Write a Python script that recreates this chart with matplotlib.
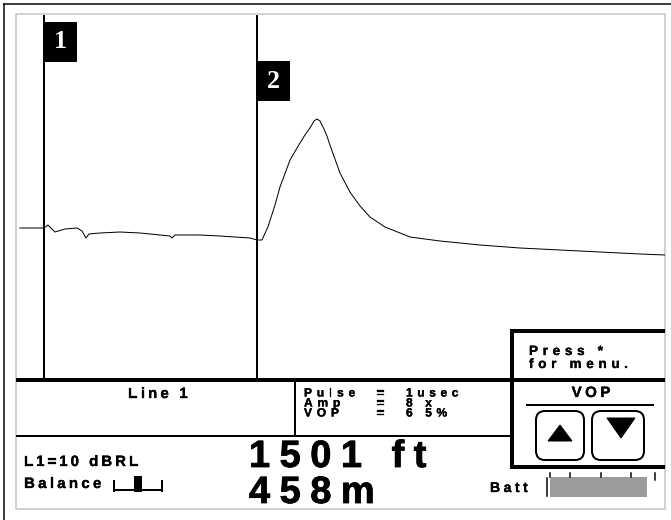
import matplotlib
matplotlib.use("Agg")
import matplotlib.pyplot as plt
from matplotlib import patheffects
from matplotlib.patches import Rectangle, FancyBboxPatch, Polygon
from matplotlib.font_manager import FontProperties, findfont
from matplotlib.ft2font import FT2Font

# TDR trace: distance (ft) vs reflection level
dist_ft = [-169, 0, 28, 56, 78, 148, 233, 268, 296, 317,
           395, 536, 677, 817, 888, 902, 923, 1099, 1240, 1346,
           1452, 1501, 1536, 1578, 1628, 1663, 1734, 1804, 1839, 1874,
           1903, 1924, 1945, 1973, 1994, 2015, 2086, 2156, 2227, 2297,
           2403, 2509, 2579, 2791, 3072, 3354, 3636, 3918, 4200, 4376]
level = [0, 0, 3, -1, -4, -1, 0, -3, -10, -6,
         -5, -4, -5, -7, -8, -10, -7, -7, -8, -9,
         -10, -12, -12, 1, 23, 41, 68, 85, 93, 100,
         107, 109, 107, 99, 92, 83, 55, 36, 22, 11,
         1, -5, -9, -13, -17, -20, -22, -24, -26, -27]
cursor_ft = [0, 1501]
cursor_names = ["1", "2"]

line_name = "Line 1"
settings = [("Pulse", "1usec"), ("Amp", "8 x"), ("VOP", "6 5%")]
dist_text = "1501 ft"
dist_m_text = "458m"
rl_text = "L1=10 dBRL"
batt_ticks = [550, 570, 601, 631, 655]

W, H = 671, 520
fig = plt.figure(figsize=(W / 72, H / 72), dpi=72)
ax = fig.add_axes([0, 0, 1, 1])
ax.set_xlim(0, W)
ax.set_ylim(H, 0)
ax.axis("off")

SANS = "Liberation Sans"


def advance(c, size, family=SANS, weight="bold"):
    fp = FontProperties(family=family, weight=weight)
    f = FT2Font(findfont(fp))
    f.set_size(size, 72)
    g = f.load_char(ord(c))
    return g.linearHoriAdvance / 65536


def tracked(x, y, s, size, track, ha="left", heavy=0.3):
    advs = [advance(c, size) for c in s]
    total = sum(advs) + track * (len(s) - 1)
    if ha == "center":
        x = x - total / 2
    pe = [patheffects.withStroke(linewidth=heavy, foreground="black")]
    for c, a in zip(s, advs):
        if c != " ":
            ax.text(x, y, c, fontsize=size, family=SANS, weight="bold",
                    color="black", va="baseline", ha="left", path_effects=pe)
        x += a + track


# frames
ax.plot([4, W], [4, 4], color="black", lw=1.5)
ax.plot([4, 4], [4, H], color="black", lw=1.5)
ax.add_patch(Rectangle((16, 14), 649, 495, fill=False, ec="#c4c4c4", lw=1.5))

# waveform area
tr = fig.add_axes([16 / W, (H - 378) / H, 649 / W, 363 / H])
tr.patch.set_alpha(0)
tr.axis("off")
tr.set_xlim(-197, 4376)
tr.set_ylim(-150, 213)
tr.plot(dist_ft, level, color="black", lw=1.0)
for ft in cursor_ft:
    tr.axvline(ft, color="black", lw=2)

# cursor label boxes
inv = ax.transData.inverted()
label_y = [22, 61]
for ft, name, y0 in zip(cursor_ft, cursor_names, label_y):
    px = inv.transform(tr.transData.transform((ft, 0)))[0]
    ax.add_patch(Rectangle((px, y0), 32, 39, color="black", zorder=5))
    ax.text(px + 16, y0 + 20, name, color="white", fontsize=26,
            family="Liberation Serif", weight="bold", ha="center",
            va="center", zorder=6)

# bottom panel lines
ax.plot([16, 665], [380, 380], color="black", lw=4, solid_capstyle="butt")
ax.plot([16, 512], [436, 436], color="black", lw=2, solid_capstyle="butt")
ax.plot([295, 295], [380, 436], color="black", lw=2)
ax.plot([512, 665], [331, 331], color="black", lw=4, solid_capstyle="butt")
ax.plot([512, 665], [467, 467], color="black", lw=4, solid_capstyle="butt")
ax.plot([512, 512], [329, 469], color="black", lw=4, solid_capstyle="butt")

# texts
tracked(158, 398, line_name, 15, 3.2, ha="center")
for yb, (k, v) in zip([396.5, 406.5, 416.5], settings):
    tracked(304, yb, k, 12, 4.8)
    tracked(377, yb, "=", 12, 4)
    tracked(406, yb, v, 12, 4.6)

tracked(529, 355, "Press *", 13.5, 4.7)
tracked(529, 368, "for menu.", 13.5, 4.7)
tracked(591, 397, "VOP", 15, 3.5, ha="center")
ax.plot([527, 653], [405, 405], color="black", lw=2)

# VOP buttons
for bx, bw in [(536, 48), (592, 52)]:
    ax.add_patch(FancyBboxPatch((bx, 411), bw, 49,
                                boxstyle="round,pad=0,rounding_size=9",
                                fill=False, ec="black", lw=2))
ax.add_patch(Polygon([[548, 441], [572, 441], [560, 425]], color="black"))
ax.add_patch(Polygon([[607, 418], [635, 418], [621, 438]], color="black"))

tracked(24, 466, rl_text, 15, 3)
tracked(24, 488, "Balance", 15, 3.3)
# balance indicator
ax.plot([113, 163], [490, 490], color="black", lw=2, solid_capstyle="butt")
ax.plot([114, 114], [481, 491], color="black", lw=2)
ax.plot([162, 162], [481, 491], color="black", lw=2)
ax.add_patch(Rectangle((134, 476), 7, 15, color="black"))

tracked(249, 467, dist_text, 38, 9.5, heavy=0.8)
tracked(249, 503, dist_m_text, 38, 9.5, heavy=0.8)

# battery
tracked(490, 492, "Batt", 14, 3.5)
ax.plot([547, 547], [478, 496], color="black", lw=1.5)
ax.add_patch(Rectangle((550, 477), 96, 19, color="#9b9b9b"))
for t in batt_ticks:
    ax.plot([t, t], [473, 477 if t != batt_ticks[-1] else 480],
            color="black", lw=1.5)

fig.savefig("out.png", dpi=72)
